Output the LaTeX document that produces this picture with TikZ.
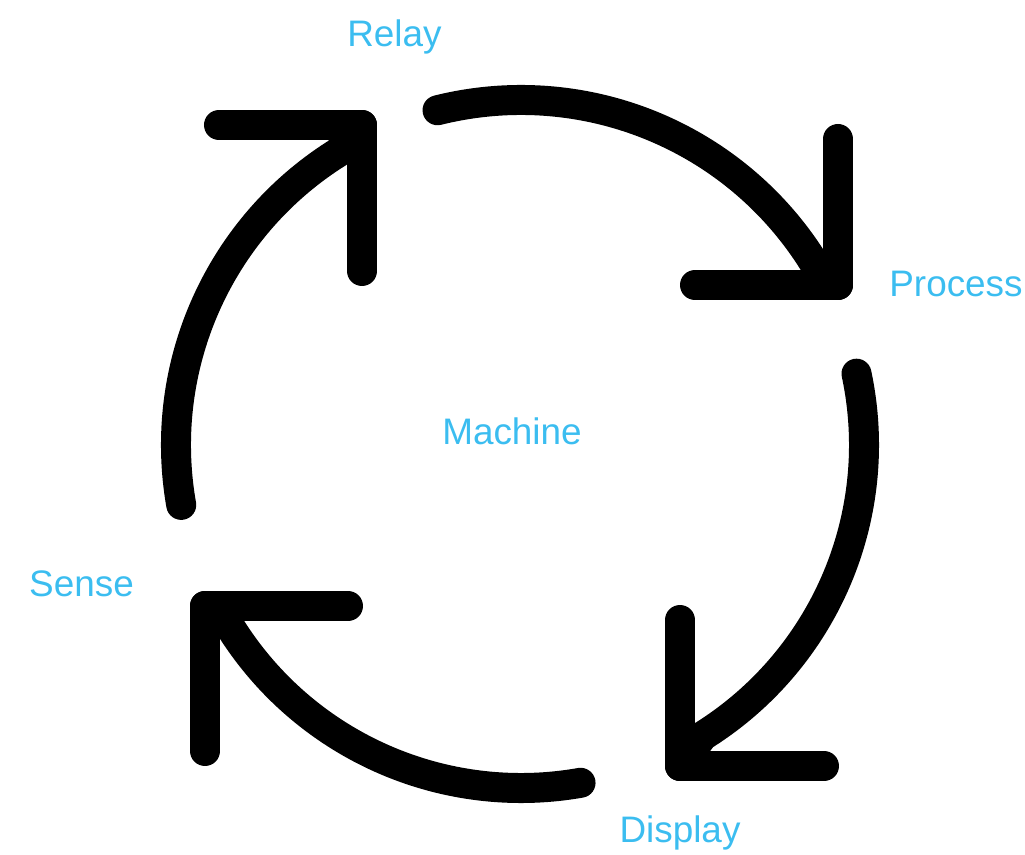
\documentclass[tikz,border=0pt]{standalone}
\usepackage{fontspec}
\setmainfont{Liberation Sans}
\definecolor{stageblue}{HTML}{3BBDF0}
\begin{document}
\begin{tikzpicture}[x=0.02cm, y=0.02cm,
                    cyclearrow/.style={line width=0.6cm, line cap=round, line join=round},
                    stage/.style={text=stageblue, anchor=base, inner sep=0pt, font=\fontsize{21}{25}\selectfont}]
                    \useasboundingbox (-521, -410) rectangle (504, 445);
                    \node[stage] (machine) at (-9, 0) {Machine};
                    \node[stage] (relay) at (-126.5, 398) {Relay};
                    \node[stage] (process) at (435, 148) {Process};
                    \node[stage] (display) at (159, -398) {Display};
                    \node[stage] (sense) at (-439.5, -152) {Sense};
                    \coordinate (toprocess) at (317, 160);
                    \coordinate (todisplay) at (159, -321);
                    \coordinate (tosense) at (-316, -161);
                    \coordinate (torelay) at (-159, 320);
                    \draw[cyclearrow] (104:345) arc[start angle=104, end angle=32, radius=345] -- (toprocess);
                    \draw[cyclearrow] (317, 306) -- (toprocess) -- (174, 160);
                    \draw[cyclearrow] (12:343) arc[start angle=12, end angle=-58, radius=343] -- (todisplay);
                    \draw[cyclearrow] (159, -175) -- (todisplay) -- (303, -321);
                    \draw[cyclearrow] (-80:343) arc[start angle=-80, end angle=-148, radius=343] -- (tosense);
                    \draw[cyclearrow] (-173, -161) -- (tosense) -- (-316, -306);
                    \draw[cyclearrow] (190:345) arc[start angle=190, end angle=122, radius=345] -- (torelay);
                    \draw[cyclearrow] (-302, 320) -- (torelay) -- (-159, 174);
                \end{tikzpicture}
\end{document}
